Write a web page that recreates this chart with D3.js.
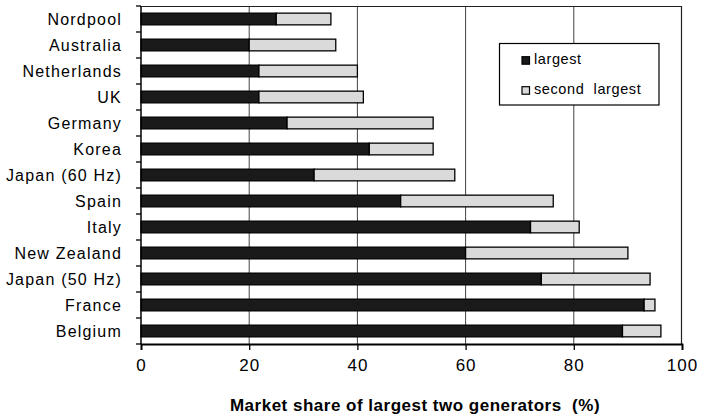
<!DOCTYPE html>
<html><head><meta charset="utf-8">
<script src="https://cdn.jsdelivr.net/npm/d3@7"></script>
<style>body{margin:0;background:#fff}svg{display:block}</style>
</head><body>
<svg id="c" width="702" height="417"></svg>
<script>
const categories = ["Nordpool","Australia","Netherlands","UK","Germany","Korea","Japan (60 Hz)","Spain","Italy","New Zealand","Japan (50 Hz)","France","Belgium"];
const largest = [25,20,21.8,21.8,27,42.2,32,48,72,60,74,93,89];
const secondLargest = [10.1,16,18.2,19.3,27,11.8,26,28.2,9,30,20.1,2,7.1];
const xTicks = [0,20,40,60,80,100];
const seriesNames = ["largest","second  largest"];
const xTitle = "Market share of largest two generators  (%)";

const svg = d3.select("#c");
const m = {l:141, r:682, t:6, b:344};
const x = d3.scaleLinear().domain([0,100]).range([m.l, m.r]);
const y = d3.scaleBand().domain(categories).range([m.t, m.b]).paddingInner(0.55).paddingOuter(0.275);
const yb = d3.scaleBand().domain(categories).range([m.t, m.b]);
const font = "'Liberation Sans', Arial, sans-serif";

// gridlines
svg.append("g").selectAll("line").data(xTicks.filter(d=>d>0 && d<100)).join("line")
  .attr("x1",d=>x(d)).attr("x2",d=>x(d)).attr("y1",m.t).attr("y2",m.b)
  .attr("stroke","#444").attr("stroke-width",1);
// plot border top/right
svg.append("path").attr("d",`M${m.l},${m.t+0.5}H${m.r-0.5}V${m.b}`).attr("fill","none").attr("stroke","#222").attr("stroke-width",1.2);

// bars
const rows = svg.append("g").selectAll("g").data(categories).join("g");
rows.append("rect").attr("x",x(0)).attr("y",d=>y(d))
  .attr("width",(d,i)=>x(largest[i])-x(0)).attr("height",y.bandwidth())
  .attr("fill","#1a1a1a").attr("stroke","#000").attr("stroke-width",1.3);
rows.append("rect").attr("x",(d,i)=>x(largest[i])).attr("y",d=>y(d))
  .attr("width",(d,i)=>x(largest[i]+secondLargest[i])-x(largest[i])).attr("height",y.bandwidth())
  .attr("fill","#dadada").attr("stroke","#000").attr("stroke-width",1.3);

// y axis
const ya = svg.append("g").attr("transform",`translate(${m.l},0)`);
ya.append("line").attr("x1",0).attr("x2",0).attr("y1",m.t).attr("y2",m.b).attr("stroke","#000").attr("stroke-width",1.5);
ya.selectAll("line.t").data(d3.range(categories.length+1)).join("line").attr("class","t")
  .attr("x1",-5).attr("x2",0).attr("y1",i=>m.t+i*yb.step()).attr("y2",i=>m.t+i*yb.step())
  .attr("stroke","#000").attr("stroke-width",1.3);
ya.selectAll("text").data(categories).join("text")
  .attr("x",-19).attr("y",d=>yb(d)+yb.bandwidth()/2).attr("dy","0.36em")
  .attr("text-anchor","end").attr("font-family",font).attr("font-size",16)
  .attr("letter-spacing","1.2px").attr("fill","#000").text(d=>d);

// x axis
const xa = svg.append("g").attr("transform",`translate(0,${m.b})`)
  .call(d3.axisBottom(x).tickValues(xTicks).tickSize(6).tickPadding(9));
xa.select(".domain").attr("stroke","#000").attr("stroke-width",1.8);
xa.selectAll(".tick line").attr("stroke","#000").attr("stroke-width",1.3);
xa.selectAll(".tick text").attr("font-family",font).attr("font-size",17)
  .attr("letter-spacing","1px").attr("fill","#000").attr("dy",null).attr("y",26.5);

svg.append("text").attr("x",415).attr("y",411).attr("text-anchor","middle")
  .attr("font-family",font).attr("font-weight","bold").attr("font-size",17)
  .attr("letter-spacing","0.5px").style("white-space","pre").attr("fill","#000").text(xTitle);

// legend
const lg = svg.append("g").attr("transform","translate(499.5,43.5)");
lg.append("rect").attr("width",159.5).attr("height",61.5).attr("fill","#fff").attr("stroke","#000").attr("stroke-width",1.2);
const colors = ["#1a1a1a","#dadada"];
seriesNames.forEach((s,i)=>{
  lg.append("rect").attr("x",22.5).attr("y",13.2+i*30).attr("width",7.5).attr("height",7.5)
    .attr("fill",colors[i]).attr("stroke","#000").attr("stroke-width",1.2);
  lg.append("text").attr("x",34.5).attr("y",20.8+i*30).attr("font-family",font).attr("font-size",14.5)
    .attr("letter-spacing","0.6px").style("white-space","pre").attr("fill","#000").text(s);
});
</script>
</body></html>
